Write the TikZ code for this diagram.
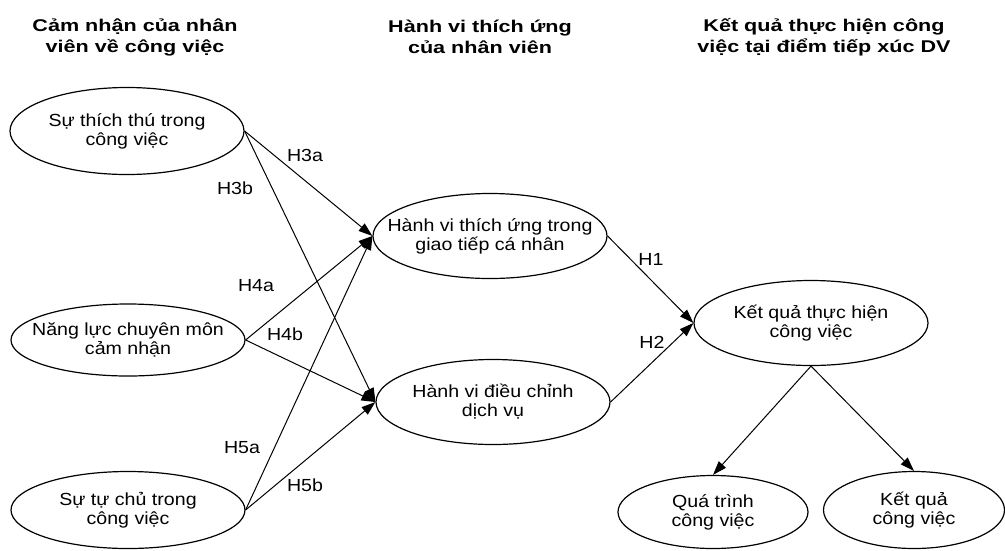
\documentclass[tikz,border=0pt]{standalone}
\usepackage{fontspec}
\setmainfont[FakeStretch=1.12]{Liberation Sans}
\newfontfamily\titlefont[FakeStretch=1.27]{Liberation Sans}
\usetikzlibrary{shapes.geometric,arrows.meta}
\begin{document}
\begin{tikzpicture}[x=1pt,y=-1pt,
  ell/.style={draw,ellipse,line width=1.2pt,inner sep=0pt},
  txt/.style={align=center,inner sep=0pt,font=\fontsize{17.5}{19}\selectfont},
  ttl/.style={align=center,font=\titlefont\bfseries\fontsize{17}{21}\selectfont},
  hlab/.style={font=\fontsize{17.5}{19}\selectfont,inner sep=0pt},
  arr/.style={line width=1pt,-{Triangle[length=14pt,width=9.5pt]}}]
\useasboundingbox (0,0) rectangle (1005,550);
% titles
\node[ttl] (t1) at (135,37) {Cảm nhận của nhân\\viên về công việc};
\node[ttl] (t2) at (480,37) {Hành vi thích ứng\\của nhân viên};
\node[ttl] (t3) at (824,37) {Kết quả thực hiện công\\việc tại điểm tiếp xúc DV};
% ellipses
\node[ell,minimum width=234pt,minimum height=87pt] (e1) at (127,131) {};
\node[ell,minimum width=234pt,minimum height=72pt] (e2) at (128,340) {};
\node[ell,minimum width=234pt,minimum height=77pt] (e3) at (128,510) {};
\node[ell,minimum width=234pt,minimum height=85pt] (e4) at (490,236) {};
\node[ell,minimum width=234pt,minimum height=85pt] (e5) at (493,402) {};
\node[ell,minimum width=234pt,minimum height=85pt] (e6) at (811,323) {};
\node[ell,minimum width=190pt,minimum height=73pt] (e7) at (713,512) {};
\node[ell,minimum width=181pt,minimum height=77pt] (e8) at (914,510) {};
% texts
\node[txt] (x1) at (e1) {Sự thích thú trong\\công việc};
\node[txt] (x2) at (e2) {Năng lực chuyên môn\\cảm nhận};
\node[txt] (x3) at (e3) {Sự tự chủ trong\\công việc};
\node[txt] (x4) at (e4) {Hành vi thích ứng trong\\giao tiếp cá nhân};
\node[txt] (x5) at (e5) {Hành vi điều chỉnh\\dịch vụ};
\node[txt] (x6) at (e6) {Kết quả thực hiện\\công việc};
\node[txt] (x7) at (e7) {Quá trình\\công việc};
\node[txt] (x8) at (e8) {Kết quả\\công việc};
% connectors
\draw[arr] (e1.east) -- (e4.west);
\draw[arr] (e1.east) -- (e5.west);
\draw[arr] (e2.east) -- (e4.west);
\draw[arr] (e2.east) -- (e5.west);
\draw[arr] (e3.east) -- (e4.west);
\draw[arr] (e3.east) -- (e5.west);
\draw[arr] (e4.east) -- (e6.west);
\draw[arr] (e5.east) -- (e6.west);
\draw[arr] (e6.south) -- (e7.north);
\draw[arr] (e6.south) -- (e8.north);
% labels
\node[hlab] (h3a) at (305,155) {H3a};
\node[hlab] (h3b) at (235,188) {H3b};
\node[hlab] (h4a) at (256,286) {H4a};
\node[hlab] (h4b) at (285,334) {H4b};
\node[hlab] (h5a) at (242,448) {H5a};
\node[hlab] (h5b) at (305,485) {H5b};
\node[hlab] (h1) at (651,259) {H1};
\node[hlab] (h2) at (652,342) {H2};
\end{tikzpicture}
\end{document}
